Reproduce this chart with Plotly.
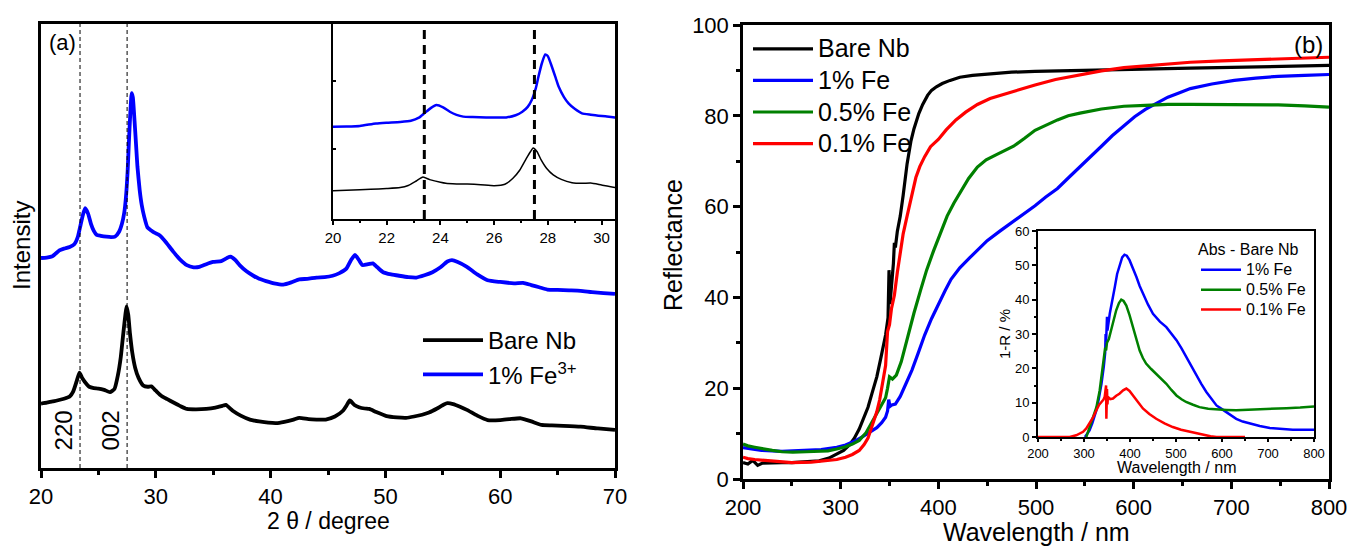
import plotly.graph_objects as go

FONT = "Liberation Sans, Arial, sans-serif"
W, H = 1353, 547

# ---------------- XRD patterns (panel a) ----------------
two_theta_fe = [20.0, 20.5, 21.0, 21.6, 22.0, 22.5, 22.9, 23.2, 23.4, 23.65, 23.85, 24.1, 24.35, 24.6,
                24.85, 25.2, 25.7, 26.1, 26.45, 26.8, 27.05, 27.25, 27.4, 27.55, 27.65, 27.78, 27.9,
                28.0, 28.15, 28.3, 28.4, 28.6, 28.77, 29.0, 29.27, 29.6, 29.88, 30.2, 30.5, 30.9,
                31.5, 32.1, 32.7, 33.3, 33.8, 34.4, 35.0, 35.7, 36.2, 36.5, 36.9, 37.3, 37.9, 38.5,
                39.0, 39.6, 40.3, 41.1, 41.8, 42.5, 43.2, 44.0, 44.7, 45.4, 46.0, 46.6, 47.0, 47.35,
                47.7, 48.0, 48.5, 48.9, 49.3, 49.8, 50.5, 51.2, 52.0, 52.7, 53.4, 54.1, 54.8, 55.4,
                55.8, 56.3, 57.1, 58.0, 58.9, 60.0, 61.2, 62.0, 62.7, 63.4, 64.1, 65.0, 66.0, 67.0,
                68.0, 69.0, 70.0]
intensity_fe = [47.3, 47.4, 47.7, 49.0, 49.4, 49.8, 50.4, 52.0, 54.2, 57.0, 58.5, 57.3, 55.0, 53.4,
                52.5, 52.3, 52.1, 52.0, 52.1, 53.2, 55.0, 57.5, 61.0, 67.0, 73.0, 80.0, 84.4,
                83.5, 78.1, 72.0, 67.9, 62.5, 59.3, 56.5, 54.2, 53.5, 53.0, 52.6, 52.0, 50.8,
                48.8, 47.0, 45.7, 45.2, 45.3, 45.9, 46.4, 46.6, 47.3, 47.6, 46.9, 45.7, 44.3, 43.3,
                42.6, 42.1, 41.6, 41.3, 41.8, 42.5, 42.6, 42.9, 43.0, 43.3, 43.9, 44.9, 46.8, 48.0,
                46.8, 45.7, 45.9, 46.1, 45.2, 44.1, 43.6, 43.3, 43.0, 42.9, 43.4, 44.1, 45.2, 46.5,
                46.8, 46.4, 45.3, 43.6, 42.3, 41.9, 41.6, 41.7, 41.2, 40.7, 40.2, 40.1, 40.0, 39.9,
                39.6, 39.4, 39.2]

two_theta_bare = [20.0, 20.5, 21.0, 21.4, 22.0, 22.5, 22.8, 23.1, 23.35, 23.6, 24.0, 24.2, 24.6, 25.0,
                  25.5, 26.0, 26.4, 26.7, 26.95, 27.2, 27.35, 27.45, 27.6, 27.75, 27.95, 28.2, 28.5,
                  28.9, 29.3, 29.6, 30.0, 30.5, 31.0, 31.5, 32.1, 32.7, 33.5, 34.4, 35.2, 35.8, 36.1,
                  36.7, 37.4, 38.2, 39.0, 39.8, 40.5, 41.2, 42.0, 42.5, 43.3, 44.0, 44.8, 45.6, 46.3,
                  46.6, 46.9, 47.3, 47.7, 48.2, 48.6, 49.2, 50.1, 51.0, 51.8, 52.5, 53.2, 53.8, 54.5,
                  55.1, 55.4, 55.9, 56.5, 57.1, 58.0, 58.9, 60.0, 60.8, 61.8, 62.7, 63.6, 64.5, 65.5,
                  67.0, 68.5, 70.0]
intensity_bare = [14.5, 14.7, 15.0, 15.2, 15.6, 16.1, 17.2, 19.5, 21.5, 20.2, 18.8, 18.3, 18.0, 17.9,
                  17.6, 17.1, 17.8, 20.9, 25.0, 31.1, 34.5, 36.4, 34.5, 30.3, 26.0, 22.6, 20.3,
                  18.6, 18.3, 18.4, 17.4, 16.2, 15.5, 14.8, 14.0, 13.3, 13.2, 13.3, 13.6, 14.0, 14.2,
                  12.9, 11.8, 10.9, 10.5, 10.2, 10.1, 10.4, 10.9, 11.3, 11.0, 10.9, 10.9, 11.6, 12.9,
                  14.0, 15.2, 14.2, 13.7, 13.4, 13.3, 12.6, 11.7, 11.4, 11.3, 11.6, 12.0, 12.5, 13.4,
                  14.3, 14.6, 14.4, 13.8, 13.1, 11.8, 10.8, 10.8, 11.0, 11.2, 10.5, 9.7, 9.6, 9.5,
                  9.3, 8.9, 8.6]

peak_positions = [23.4, 27.5]
peak_labels = ["220", "002"]

# ---------------- Diffuse reflectance (panel b) ----------------
wl_bare = [200, 205, 210, 215, 220, 230, 240, 250, 265, 278, 288, 296, 303, 309, 314, 319, 323, 328,
           332, 337, 341, 346, 348.5, 349.5, 350.5, 352, 354, 355, 356, 358, 361, 364, 368, 372, 375,
           380, 384, 389, 393, 398, 404, 412, 422, 435, 454, 475, 499, 530, 567, 610, 658, 700, 750,
           800]
r_bare = [3.6, 3.3, 4.1, 3.0, 3.5, 3.6, 3.6, 3.6, 3.8, 4.0, 4.6, 5.5, 6.3, 7.5, 9.0, 11.0, 13.2, 15.8,
          18.8, 22.5, 26.5, 31.7, 35.5, 46.0, 38.5, 42.0, 47.5, 52.0, 51.0, 54.5, 57.9, 62.5, 69.4, 74.5,
          77.1, 80.5, 82.5, 84.5, 85.6, 86.4, 87.1, 87.8, 88.5, 88.9, 89.3, 89.6, 89.8, 89.9, 90.1, 90.3,
          90.5, 90.7, 90.9, 91.1]

wl_fe1 = [200, 205, 212, 219, 230, 240, 251, 265, 280, 287, 296, 305, 314, 323, 330, 337, 342, 346,
          348, 349.2, 350.5, 352.4, 356, 361, 366, 373, 379, 386, 393, 400, 407, 413, 422, 432, 441,
          450, 463, 477, 488, 499, 510, 522, 533, 545, 556, 567, 578, 590, 601, 612, 624, 635, 647,
          658, 680, 703, 725, 748, 775, 800]
r_fe1 = [6.9, 6.7, 6.5, 6.3, 6.2, 6.1, 6.2, 6.3, 6.5, 6.7, 7.0, 7.5, 8.3, 9.4, 10.3, 11.3, 12.4, 13.6,
         15.0, 17.5, 16.0, 16.3, 16.5, 18.2, 20.6, 24.0, 27.5, 31.7, 35.3, 38.6, 41.5, 44.0, 46.5, 48.7,
         50.7, 52.5, 54.6, 56.7, 58.4, 60.2, 62.1, 64.0, 66.3, 68.7, 71.0, 73.3, 75.6, 77.9, 79.8, 81.4,
         82.8, 84.1, 85.1, 86.0, 87.0, 87.8, 88.3, 88.7, 88.9, 89.1]

wl_fe05 = [200, 205, 212, 219, 230, 240, 251, 265, 280, 287, 296, 305, 312, 319, 326, 332, 338, 343,
           346, 348, 350, 353, 357, 362, 368, 375, 382, 388, 395, 402, 409, 416, 423, 431, 440, 449,
           459, 468, 477, 488, 499, 511, 522, 533, 545, 567, 590, 612, 635, 658, 680, 714, 748, 775,
           800]
r_fe05 = [7.7, 7.3, 7.0, 6.7, 6.3, 6.0, 5.9, 6.0, 6.1, 6.2, 6.6, 7.1, 7.7, 8.5, 10.2, 12.5, 14.8, 16.8,
          17.9, 20.0, 22.5, 22.0, 22.9, 25.8, 30.9, 36.5, 41.7, 46.0, 50.2, 54.0, 57.9, 60.8, 63.3, 66.2,
          68.7, 70.3, 71.4, 72.3, 73.3, 75.0, 76.8, 78.0, 79.1, 80.0, 80.6, 81.5, 82.1, 82.3, 82.5, 82.5,
          82.5, 82.5, 82.4, 82.2, 81.9]

wl_fe01 = [200, 205, 212, 219, 230, 240, 250, 270, 287, 296, 305, 312, 319, 324, 328, 332, 337, 340,
           343, 346, 348, 350, 352, 355, 358, 361, 364, 368, 372, 377, 381, 386, 392, 400, 408, 418,
           428, 440, 453, 468, 483, 499, 520, 545, 567, 590, 620, 658, 690, 725, 760, 800]
r_fe01 = [4.8, 4.5, 4.3, 4.2, 4.0, 3.8, 3.6, 3.7, 4.0, 4.3, 4.8, 5.4, 6.3, 7.6, 9.0, 11.5, 14.8, 17.5,
          20.9, 25.0, 32.5, 34.0, 37.5, 40.5, 45.5, 50.2, 54.0, 57.9, 61.7, 66.4, 68.8, 71.0, 73.2, 74.8,
          76.9, 79.1, 80.8, 82.5, 83.8, 84.8, 85.9, 86.8, 88.0, 89.1, 89.9, 90.6, 91.2, 91.8, 92.1, 92.4,
          92.6, 92.9]

# Difference spectra 1-R (doped minus bare), inset of panel b
wl_abs_fe1 = [302, 308, 312, 318, 322, 327, 332, 338, 343, 346, 347, 348, 350, 351, 356, 361, 367, 372,
              378, 383, 388, 393, 399, 406, 414, 421, 428, 439, 450, 465, 479, 490, 501, 512, 522, 533,
              544, 555, 566, 577, 588, 599, 609, 620, 631, 645, 660, 682, 704, 730, 754, 780, 800]
abs_fe1 = [0.0, 1.0, 1.9, 4.0, 5.5, 7.8, 11.0, 15.5, 20.5, 24.5, 30.0, 27.5, 35.0, 31.0, 35.9, 40.0,
           43.7, 47.5, 50.5, 52.3, 53.1, 52.8, 51.5, 49.3, 46.6, 44.0, 41.7, 38.6, 35.9, 33.6, 32.0,
           30.2, 28.2, 25.8, 23.3, 20.6, 18.0, 15.5, 13.1, 11.0, 9.2, 8.2, 7.3, 6.2, 5.3, 4.5, 3.9,
           3.2, 2.6, 2.3, 2.1, 2.1, 2.1]

wl_abs_fe05 = [305, 312, 319, 327, 334, 341, 345, 346, 348, 350, 354, 359, 365, 370, 376, 381, 386, 392,
               399, 406, 414, 421, 428, 435, 446, 457, 468, 479, 490, 501, 512, 522, 537, 551, 570, 588,
               610, 631, 657, 682, 710, 740, 770, 800]
abs_fe05 = [0.0, 2.9, 5.5, 8.7, 13.5, 20.4, 24.0, 26.0, 25.2, 27.5, 28.5, 31.1, 34.2, 36.9, 39.0, 40.0,
            39.6, 38.3, 35.5, 32.0, 28.2, 25.2, 23.0, 21.4, 19.8, 18.4, 17.0, 15.5, 13.7, 12.1, 11.0,
            10.2, 9.4, 8.7, 8.2, 8.0, 7.9, 7.8, 7.9, 8.0, 8.2, 8.4, 8.6, 8.9]

wl_abs_fe01 = [200, 230, 250, 269, 283, 290, 298, 305, 312, 320, 327, 333, 338, 342, 345, 347, 348,
               348.6, 349.3, 350, 351, 352, 357, 363, 370, 377, 385, 392, 399, 406, 417, 428, 442, 457,
               475, 493, 511, 530, 545, 559, 575, 588, 620, 650]
abs_fe01 = [0.0, 0.0, 0.0, 0.0, 0.5, 0.9, 1.5, 2.5, 3.9, 5.8, 7.8, 9.4, 10.2, 10.8, 11.7, 13.5, 15.0,
            5.3, 12.0, 14.0, 9.5, 11.7, 11.0, 11.2, 12.0, 12.6, 13.6, 14.1, 13.4, 12.1, 10.2, 8.3, 6.7,
            5.3, 4.0, 2.9, 2.1, 1.5, 1.0, 0.5, 0.2, 0.0, 0.0, 0.0]

BLACK, BLUE, GREEN, RED = "#000000", "#0000FF", "#008000", "#FF0000"


def sized(text, size):
    return f'<span style="font-size:{size}px">{text}</span>'


def xrd_line(color, width):
    return dict(color=color, width=width, shape="spline", smoothing=0.5)


fig = go.Figure()

# Panel (a) main
fig.add_trace(go.Scatter(x=two_theta_bare, y=intensity_bare, mode="lines", name="Bare Nb",
                         line=xrd_line(BLACK, 3.8), xaxis="x", yaxis="y", legend="legend"))
fig.add_trace(go.Scatter(x=two_theta_fe, y=intensity_fe, mode="lines", name="1% Fe<sup>3+</sup>",
                         line=xrd_line(BLUE, 3.8), xaxis="x", yaxis="y", legend="legend"))
# Panel (a) inset
fig.add_trace(go.Scatter(x=two_theta_fe, y=intensity_fe, mode="lines", showlegend=False,
                         line=xrd_line(BLUE, 2.5), xaxis="x2", yaxis="y2"))
fig.add_trace(go.Scatter(x=two_theta_bare, y=intensity_bare, mode="lines", showlegend=False,
                         line=xrd_line(BLACK, 1.5), xaxis="x2", yaxis="y2"))

# Panel (b) main
for wl, r, name, col in [(wl_bare, r_bare, "Bare Nb", BLACK), (wl_fe1, r_fe1, "1% Fe", BLUE),
                         (wl_fe05, r_fe05, "0.5% Fe", GREEN), (wl_fe01, r_fe01, "0.1% Fe", RED)]:
    fig.add_trace(go.Scatter(x=wl, y=r, mode="lines", name=sized(name, 25),
                             line=dict(color=col, width=3.2),
                             xaxis="x3", yaxis="y3", legend="legend2"))
# Panel (b) inset
for wl, a, name, col in [(wl_abs_fe1, abs_fe1, "1% Fe", BLUE), (wl_abs_fe05, abs_fe05, "0.5% Fe", GREEN),
                         (wl_abs_fe01, abs_fe01, "0.1% Fe", RED)]:
    fig.add_trace(go.Scatter(x=wl, y=a, mode="lines", name=sized(name, 16),
                             line=dict(color=col, width=2.5),
                             xaxis="x4", yaxis="y4", legend="legend3"))


def px(x):
    return x / W


def py(y):
    return 1 - y / H


def frame(**kw):
    base = dict(showline=True, linecolor="black", mirror=True, showgrid=False, zeroline=False,
                ticks="outside", tickcolor="black", automargin=False,
                tickfont=dict(family=FONT, color="black"))
    base.update(kw)
    return base


fig.update_layout(
    width=W, height=H, margin=dict(l=0, r=0, t=0, b=0),
    paper_bgcolor="white", plot_bgcolor="rgba(0,0,0,0)",
    font=dict(family=FONT, color="black"),
    xaxis=frame(domain=[px(41), px(615)], anchor="y", range=[20, 70], linewidth=2.5,
                tickvals=[20, 30, 40, 50, 60, 70], ticklen=7, tickwidth=2.5, tickfont_size=22,
                minor=dict(dtick=5, tick0=20, ticklen=4, tickwidth=2.5, ticks="outside", tickcolor="black")),
    yaxis=frame(domain=[py(468), py(24)], anchor="x", range=[0, 100], linewidth=2.5,
                ticks="", showticklabels=False),
    xaxis2=frame(domain=[px(333), px(615)], anchor="y2", range=[20, 30.5], linewidth=2,
                 dtick=2, tick0=20, ticklen=4, tickwidth=1.5, tickfont_size=15,
                 minor=dict(dtick=1, ticklen=2, tickwidth=1.5, ticks="outside", tickcolor="black")),
    yaxis2=frame(domain=[py(219), py(24)], anchor="x2", range=[0, 100], linewidth=2,
                 tickvals=[36, 71], ticks="inside", ticklen=3, tickwidth=1.5, showticklabels=False),
    xaxis3=frame(domain=[px(743), px(1329)], anchor="y3", range=[200, 800], linewidth=2.5,
                 dtick=100, tick0=200, ticklen=7, tickwidth=2.5, tickfont_size=22,
                 minor=dict(dtick=50, ticklen=4, tickwidth=2.5, ticks="outside", tickcolor="black")),
    yaxis3=frame(domain=[py(479), py(25)], anchor="x3", range=[0, 100], linewidth=2.5,
                 dtick=20, ticklen=7, tickwidth=2.5, tickfont_size=22,
                 minor=dict(dtick=10, ticklen=4, tickwidth=2.5, ticks="outside", tickcolor="black")),
    xaxis4=frame(domain=[px(1038), px(1314)], anchor="y4", range=[200, 800], linewidth=2,
                 dtick=100, tick0=200, ticklen=3, tickwidth=1.5, tickfont_size=13,
                 minor=dict(dtick=50, ticklen=2, tickwidth=1.5, ticks="outside", tickcolor="black")),
    yaxis4=frame(domain=[py(437), py(231)], anchor="x4", range=[0, 60], linewidth=2,
                 dtick=10, ticklen=4, tickwidth=1.5, tickfont_size=13,
                 minor=dict(dtick=5, ticklen=2, tickwidth=1.5, ticks="outside", tickcolor="black")),
    legend=dict(x=px(418), y=py(318), xanchor="left", yanchor="top", bgcolor="rgba(0,0,0,0)",
                font=dict(family=FONT, size=24), itemwidth=60, tracegroupgap=0),
    legend2=dict(x=px(748), y=py(28), xanchor="left", yanchor="top", bgcolor="rgba(0,0,0,0)",
                 font=dict(family=FONT, size=22), itemwidth=60),
    legend3=dict(x=px(1196), y=py(234), xanchor="left", yanchor="top", bgcolor="rgba(0,0,0,0)",
                 font=dict(family=FONT, size=13), itemwidth=40,
                 title=dict(text="Abs - Bare Nb", font=dict(family=FONT, size=16))),
)

# Reference lines at the (220) and (002) reflections
for pk in peak_positions:
    fig.add_shape(type="line", xref="x", yref="y domain", x0=pk, x1=pk, y0=0, y1=1,
                  line=dict(color="black", width=1, dash="4px,3px"))
    fig.add_shape(type="line", xref="x2", yref="y2 domain", x0=pk, x1=pk, y0=0, y1=1,
                  line=dict(color="black", width=3, dash="9px,6px"))

annotations = [
    dict(text="Intensity", x=px(22), y=py(246), textangle=-90, font_size=24),
    dict(text="2 θ / degree", x=px(328), y=py(521), font_size=23),
    dict(text="Reflectance", x=px(673), y=py(245), textangle=-90, font_size=25),
    dict(text="Wavelength / nm", x=px(1036), y=py(532), font_size=25),
    dict(text="1-R / %", x=px(1004), y=py(334), textangle=-90, font_size=15),
    dict(text="Wavelength / nm", x=px(1176), y=py(467), font_size=16),
    dict(text="(a)", x=px(62), y=py(43), font_size=22),
    dict(text="(b)", x=px(1308), y=py(45), font_size=24),
]
for a in annotations:
    a.update(xref="paper", yref="paper", xanchor="center", yanchor="middle", showarrow=False,
             font_family=FONT, font_color="black")
    fig.add_annotation(**a)

for pk, lab in zip(peak_positions, peak_labels):
    fig.add_annotation(text=lab, x=pk, y=3.4, xref="x", yref="y", xanchor="right", yanchor="bottom",
                       xshift=-1, textangle=-90, showarrow=False,
                       font=dict(family=FONT, size=24, color="black"))

fig.write_html("out.html")
